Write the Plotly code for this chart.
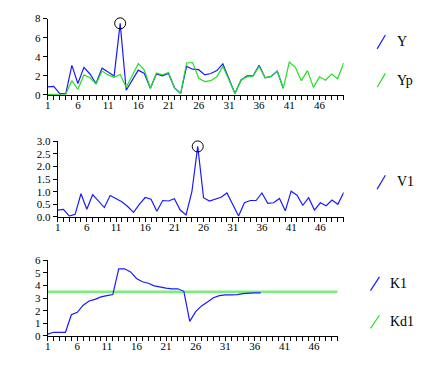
import plotly.graph_objects as go

X = list(range(1, 51))
x_tick_labels = [str(i) if (i - 1) % 5 == 0 else "" for i in X]

Y = [0.85, 0.9, 0.15, 0.15, 3.1, 1.2, 2.9, 2.2, 1.2, 2.8,
     2.4, 2.0, 7.5, 0.5, 1.55, 2.6, 2.25, 0.7, 2.2, 2.0,
     2.25, 0.75, 0.15, 3.0, 2.7, 2.65, 2.1, 2.25, 2.55, 3.25,
     1.7, 0.15, 1.55, 2.0, 2.0, 3.1, 1.8, 1.95, 2.5, 0.7]
Yp = [0.05, 0.05, 0.1, 0.1, 1.5, 0.6, 2.1, 1.8, 1.15, 2.5,
      2.1, 1.85, 2.15, 0.8, 2.05, 3.3, 2.6, 0.7, 2.3, 2.1,
      2.35, 0.75, 0.15, 3.35, 3.4, 1.75, 1.4, 1.5, 1.9, 3.0,
      1.6, 0.15, 1.6, 1.9, 2.0, 3.0, 1.8, 1.95, 2.5, 0.7,
      3.45, 2.9, 1.5, 2.55, 0.8, 1.9, 1.55, 2.2, 1.7, 3.35]
V1 = [0.27, 0.3, 0.03, 0.1, 0.92, 0.3, 0.88, 0.63, 0.37, 0.85,
      0.72, 0.6, 0.41, 0.18, 0.5, 0.77, 0.7, 0.22, 0.65, 0.63,
      0.72, 0.27, 0.08, 1.0, 2.8, 0.76, 0.63, 0.7, 0.78, 0.95,
      0.5, 0.03, 0.56, 0.65, 0.65, 0.95, 0.54, 0.56, 0.73, 0.24,
      1.02, 0.86, 0.46, 0.76, 0.27, 0.56, 0.44, 0.67, 0.5, 0.97]
K1 = [0.13, 0.28, 0.28, 0.28, 1.67, 1.87, 2.44, 2.77, 2.9, 3.1,
      3.2, 3.28, 5.33, 5.33, 5.08, 4.56, 4.3, 4.18, 3.97, 3.87,
      3.8, 3.74, 3.74, 3.54, 1.15, 1.92, 2.38, 2.69, 3.03, 3.2,
      3.26, 3.26, 3.28, 3.36, 3.41, 3.41, 3.41]
Kd1 = [3.5] * 50

BLUE = "#1a1aff"
GREEN = "#22e022"
KGREEN = "#7aef7a"
FONT = "Liberation Serif"

W, H = 441, 366
def px(x):
    return x / W
def py(y):
    return 1 - y / H

fig = go.Figure()

def line(xs, ys, color, ax, width=1.2):
    fig.add_trace(go.Scatter(x=xs, y=ys, mode="lines", xaxis="x" + ax, yaxis="y" + ax,
                             line=dict(color=color, width=width), showlegend=False,
                             hoverinfo="skip"))

def peak(xs, ys, ax):
    i = max(range(len(ys)), key=lambda k: ys[k])
    fig.add_trace(go.Scatter(x=[xs[i]], y=[ys[i]], mode="markers", xaxis="x" + ax, yaxis="y" + ax,
                             marker=dict(symbol="circle-open", size=11, color="black",
                                         line=dict(width=1, color="black")),
                             cliponaxis=False, showlegend=False, hoverinfo="skip"))

line(X[:len(Y)], Y, BLUE, "")
line(X[:len(Yp)], Yp, GREEN, "")
peak(X[:len(Y)], Y, "")
line(X[:len(V1)], V1, BLUE, "2")
peak(X[:len(V1)], V1, "2")
line(X[:len(Kd1)], Kd1, KGREEN, "3", width=2.5)
line(X[:len(K1)], K1, BLUE, "3")

xcommon = dict(range=[1, 50], tickvals=X, ticktext=x_tick_labels, ticks="outside", ticklen=4,
               tickcolor="black", showline=True, linecolor="black", linewidth=1,
               ticklabelstandoff=-4,
               showgrid=False, zeroline=False, tickfont=dict(family=FONT, size=11, color="black"))
ycommon = dict(ticks="outside", ticklen=4, tickcolor="black", showline=True, linecolor="black",
               linewidth=1, showgrid=False, zeroline=False,
               tickfont=dict(family=FONT, size=11, color="black"))

fig.update_layout(
    width=W, height=H, margin=dict(l=0, r=0, t=0, b=0),
    paper_bgcolor="white", plot_bgcolor="white", showlegend=False,
    xaxis=dict(domain=[px(45), px(343)], anchor="y", **xcommon),
    yaxis=dict(domain=[py(92), py(13)], anchor="x", range=[0, 8], tickvals=[0, 2, 4, 6, 8], **ycommon),
    xaxis2=dict(domain=[px(55), px(343)], anchor="y2", **xcommon),
    yaxis2=dict(domain=[py(218), py(140)], anchor="x2", range=[0, 3],
                tickvals=[0, 0.5, 1, 1.5, 2, 2.5, 3], tickformat=".1f", **ycommon),
    xaxis3=dict(domain=[px(45), px(337)], anchor="y3", **xcommon),
    yaxis3=dict(domain=[py(341), py(263)], anchor="x3", range=[0, 6],
                tickvals=[0, 1, 2, 3, 4, 5, 6], **ycommon),
)

legend = [
    ("Y", BLUE, 376.7, 44.3, 385, 30, 395, 37),
    ("Yp", GREEN, 376.7, 84, 385, 69.7, 395, 77),
    ("V1", BLUE, 376.7, 189.3, 385, 175, 395, 181),
    ("K1", BLUE, 370, 294.3, 379, 280, 388, 287),
    ("Kd1", GREEN, 370, 333.3, 379, 319.7, 388, 326),
]
for name, col, x0, y0, x1, y1, tx, ty in legend:
    fig.add_shape(type="line", xref="paper", yref="paper", x0=px(x0), y0=py(y0), x1=px(x1), y1=py(y1),
                  line=dict(color=col, width=1.2))
    fig.add_annotation(text=name, xref="paper", yref="paper", x=px(tx), y=py(ty),
                       xanchor="left", yanchor="middle", showarrow=False,
                       font=dict(family=FONT, size=14, color="black"))

fig.write_html("out.html", config={"displayModeBar": False},
               post_script="document.body.style.margin='0';document.body.style.overflow='hidden';")
